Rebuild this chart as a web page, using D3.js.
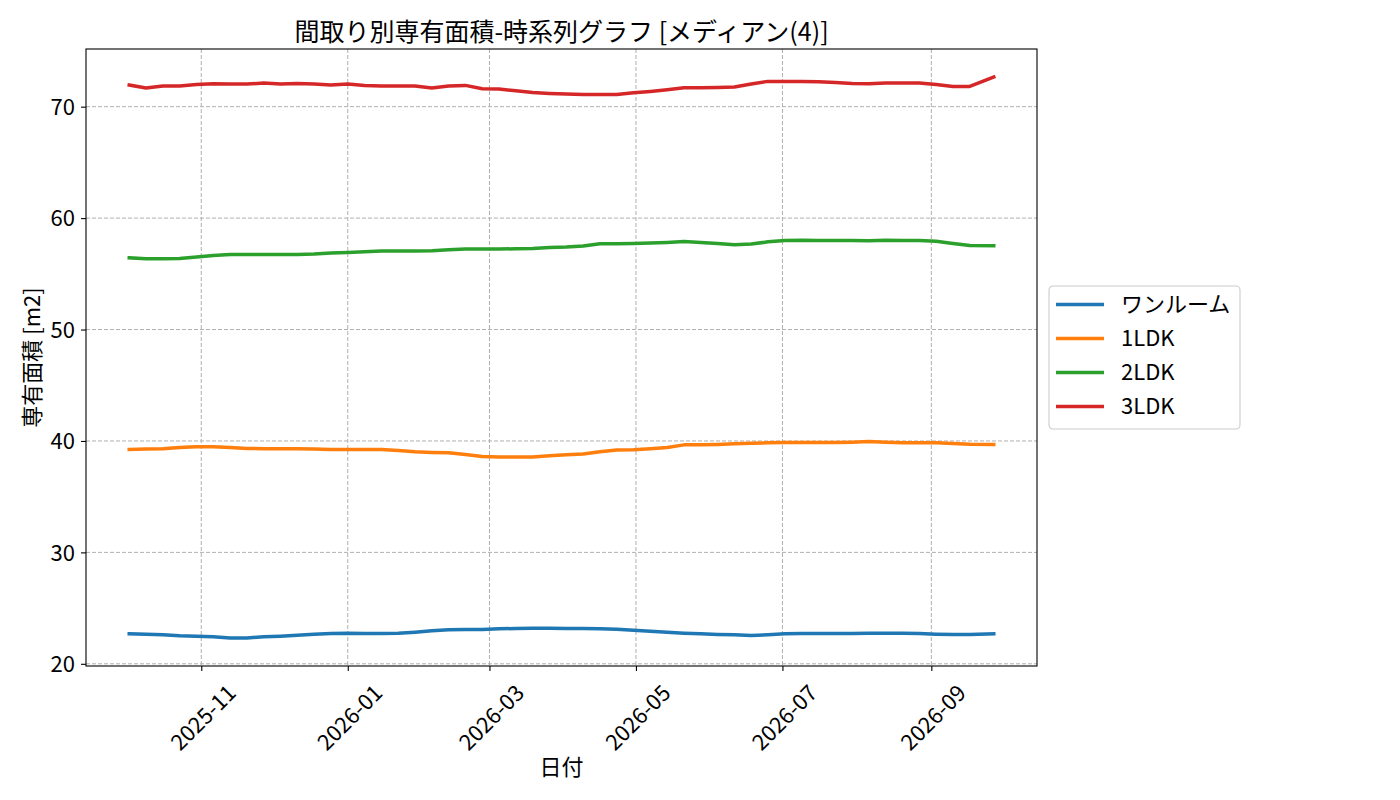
<!DOCTYPE html>
<html>
<head>
<meta charset="utf-8">
<script src="https://cdn.jsdelivr.net/npm/d3@7"></script>
<style>
  body { margin: 0; background: #fff; }
  text { font-family: "Noto Sans CJK JP", "Noto Sans", sans-serif; fill: #000; }
</style>
</head>
<body>
<div class="chart"></div>
<script>
// Dates (weekly snapshots)
const dates = [
  '2025-10-02', '2025-10-09', '2025-10-16', '2025-10-23', '2025-10-30',
  '2025-11-06', '2025-11-13', '2025-11-20', '2025-11-27',
  '2025-12-04', '2025-12-11', '2025-12-18', '2025-12-25',
  '2026-01-01', '2026-01-08', '2026-01-15', '2026-01-22', '2026-01-29',
  '2026-02-05', '2026-02-12', '2026-02-19', '2026-02-26',
  '2026-03-05', '2026-03-12', '2026-03-19', '2026-03-26',
  '2026-04-02', '2026-04-09', '2026-04-16', '2026-04-23', '2026-04-30',
  '2026-05-07', '2026-05-14', '2026-05-21', '2026-05-28',
  '2026-06-04', '2026-06-11', '2026-06-18', '2026-06-25',
  '2026-07-02', '2026-07-09', '2026-07-16', '2026-07-23', '2026-07-30',
  '2026-08-06', '2026-08-13', '2026-08-20', '2026-08-27',
  '2026-09-03', '2026-09-10', '2026-09-17', '2026-09-27'
];

const oneRoom = [
  22.69, 22.66, 22.60, 22.51, 22.48, 22.42, 22.32, 22.32, 22.42, 22.48,
  22.57, 22.66, 22.72, 22.75, 22.72, 22.72, 22.75, 22.84, 22.96, 23.05,
  23.08, 23.08, 23.14, 23.17, 23.20, 23.20, 23.17, 23.17, 23.14, 23.11,
  23.02, 22.93, 22.84, 22.75, 22.69, 22.63, 22.60, 22.54, 22.60, 22.69,
  22.72, 22.72, 22.72, 22.72, 22.75, 22.75, 22.75, 22.72, 22.66, 22.63,
  22.63, 22.69
];

const ldk1 = [
  39.24, 39.27, 39.30, 39.42, 39.47, 39.47, 39.42, 39.33, 39.30, 39.30,
  39.30, 39.27, 39.24, 39.24, 39.24, 39.24, 39.15, 39.03, 38.97, 38.94,
  38.79, 38.61, 38.55, 38.55, 38.55, 38.67, 38.76, 38.82, 39.03, 39.18,
  39.21, 39.30, 39.42, 39.65, 39.65, 39.68, 39.74, 39.80, 39.83, 39.86,
  39.86, 39.86, 39.86, 39.89, 39.95, 39.89, 39.83, 39.83, 39.83, 39.77,
  39.71, 39.68
];

const ldk2 = [
  56.44, 56.35, 56.35, 56.38, 56.50, 56.65, 56.74, 56.74, 56.74, 56.74,
  56.74, 56.77, 56.86, 56.92, 56.98, 57.04, 57.04, 57.04, 57.07, 57.16,
  57.22, 57.22, 57.22, 57.25, 57.28, 57.37, 57.40, 57.49, 57.70, 57.70,
  57.73, 57.76, 57.82, 57.90, 57.82, 57.73, 57.60, 57.67, 57.87, 57.99,
  58.02, 57.99, 57.99, 57.99, 57.96, 58.02, 57.99, 57.99, 57.93, 57.73,
  57.55, 57.52
];

const ldk3 = [
  71.94, 71.67, 71.85, 71.85, 72.00, 72.06, 72.03, 72.03, 72.12, 72.03,
  72.09, 72.03, 71.94, 72.03, 71.91, 71.85, 71.85, 71.85, 71.67, 71.85,
  71.91, 71.61, 71.58, 71.43, 71.28, 71.19, 71.13, 71.10, 71.10, 71.10,
  71.25, 71.37, 71.52, 71.70, 71.70, 71.73, 71.76, 72.03, 72.27, 72.27,
  72.27, 72.24, 72.18, 72.09, 72.06, 72.12, 72.12, 72.12, 72.00, 71.82,
  71.82, 72.66
];

const seriesNames = ['ワンルーム', '1LDK', '2LDK', '3LDK'];
const seriesColors = ['#1f77b4', '#ff7f0e', '#2ca02c', '#d62728'];
const yTicks = [20, 30, 40, 50, 60, 70];

const chartTitle = '間取り別専有面積-時系列グラフ [メディアン(4)]';
const xLabel = '日付';
const yLabel = '専有面積 [m2]';

// Figure layout
const W = 1400, H = 800;
const margin = { top: 49, right: 363, bottom: 134, left: 86 };
const width = W - margin.left - margin.right;
const height = H - margin.top - margin.bottom;

const parseDate = d3.timeParse('%Y-%m-%d');
const xDates = dates.map(parseDate);
const allSeries = [oneRoom, ldk1, ldk2, ldk3].map((vals, i) => ({
  name: seriesNames[i],
  color: seriesColors[i],
  values: vals.map((v, j) => ({ date: xDates[j], value: v }))
}));

const svg = d3.select('.chart')
  .append('svg')
  .attr('width', W)
  .attr('height', H);

const g = svg.append('g')
  .attr('transform', `translate(${margin.left},${margin.top})`);

// Scales with matplotlib style 5% padding
const xExt = d3.extent(xDates);
const xPad = (xExt[1] - xExt[0]) * 0.05;
const x = d3.scaleTime()
  .domain([new Date(+xExt[0] - xPad), new Date(+xExt[1] + xPad)])
  .range([0, width]);

const allVals = oneRoom.concat(ldk1, ldk2, ldk3);
const yMin = d3.min(allVals), yMax = d3.max(allVals);
const yPad = (yMax - yMin) * 0.05;
const y = d3.scaleLinear()
  .domain([yMin - yPad, yMax + yPad])
  .range([height, 0]);

const xTickDates = d3.timeMonth.every(2).range(
  new Date(2025, 10, 1), x.domain()[1]
);

// Grid
g.append('g')
  .selectAll('line')
  .data(xTickDates)
  .enter()
  .append('line')
  .attr('x1', d => x(d)).attr('x2', d => x(d))
  .attr('y1', 0).attr('y2', height)
  .attr('stroke', '#b0b0b0')
  .attr('stroke-width', 1)
  .attr('stroke-dasharray', '4,2');

g.append('g')
  .selectAll('line')
  .data(yTicks)
  .enter()
  .append('line')
  .attr('x1', 0).attr('x2', width)
  .attr('y1', d => y(d)).attr('y2', d => y(d))
  .attr('stroke', '#b0b0b0')
  .attr('stroke-width', 1)
  .attr('stroke-dasharray', '4,2');

// Lines
const line = d3.line()
  .x(d => x(d.date))
  .y(d => y(d.value));

g.selectAll('.series')
  .data(allSeries)
  .enter()
  .append('path')
  .attr('class', 'series')
  .attr('d', d => line(d.values))
  .attr('fill', 'none')
  .attr('stroke', d => d.color)
  .attr('stroke-width', 3.5)
  .attr('stroke-linejoin', 'round')
  .attr('stroke-linecap', 'square');

// Axes
const xAxis = g.append('g')
  .attr('transform', `translate(0,${height})`)
  .call(d3.axisBottom(x).tickValues(xTickDates).tickFormat(d3.timeFormat('%Y-%m')).tickSizeOuter(0).tickSize(5).tickPadding(0));
xAxis.select('.domain').remove();
xAxis.selectAll('line').attr('stroke', '#000').attr('stroke-width', 1.1);
xAxis.selectAll('text')
  .attr('font-size', 22)
  .attr('text-anchor', 'middle')
  .attr('dominant-baseline', 'central')
  .attr('y', 0).attr('dy', null)
  .attr('transform', 'translate(0,50) rotate(-45)');

const yAxis = g.append('g')
  .call(d3.axisLeft(y).tickValues(yTicks).tickSizeOuter(0).tickSize(5).tickPadding(6));
yAxis.select('.domain').remove();
yAxis.selectAll('line').attr('stroke', '#000').attr('stroke-width', 1.1);
yAxis.selectAll('text')
  .attr('font-size', 22)
  .attr('dy', '0.35em');

// Frame
g.append('rect')
  .attr('width', width)
  .attr('height', height)
  .attr('fill', 'none')
  .attr('stroke', '#000')
  .attr('stroke-width', 1.1);

// Title and axis labels
svg.append('text')
  .attr('x', margin.left + width / 2)
  .attr('y', 41)
  .attr('text-anchor', 'middle')
  .attr('font-size', 25)
  .text(chartTitle);

svg.append('text')
  .attr('x', margin.left + width / 2)
  .attr('y', 775)
  .attr('text-anchor', 'middle')
  .attr('font-size', 22)
  .text(xLabel);

svg.append('text')
  .attr('transform', `translate(40,${margin.top + height / 2}) rotate(-90)`)
  .attr('text-anchor', 'middle')
  .attr('font-size', 22)
  .text(yLabel);

// Legend
const legend = svg.append('g')
  .attr('transform', 'translate(1049,286)');

legend.append('rect')
  .attr('width', 191)
  .attr('height', 143)
  .attr('rx', 4)
  .attr('fill', '#fff')
  .attr('stroke', '#cccccc')
  .attr('stroke-width', 1.1);

const items = legend.selectAll('.item')
  .data(allSeries)
  .enter()
  .append('g')
  .attr('class', 'item')
  .attr('transform', (d, i) => `translate(0,${18.5 + i * 34})`);

items.append('line')
  .attr('x1', 7).attr('x2', 55)
  .attr('stroke', d => d.color)
  .attr('stroke-width', 3.5);

items.append('text')
  .attr('x', 72)
  .attr('dy', '0.35em')
  .attr('font-size', 22)
  .text(d => d.name);
</script>
</body>
</html>
